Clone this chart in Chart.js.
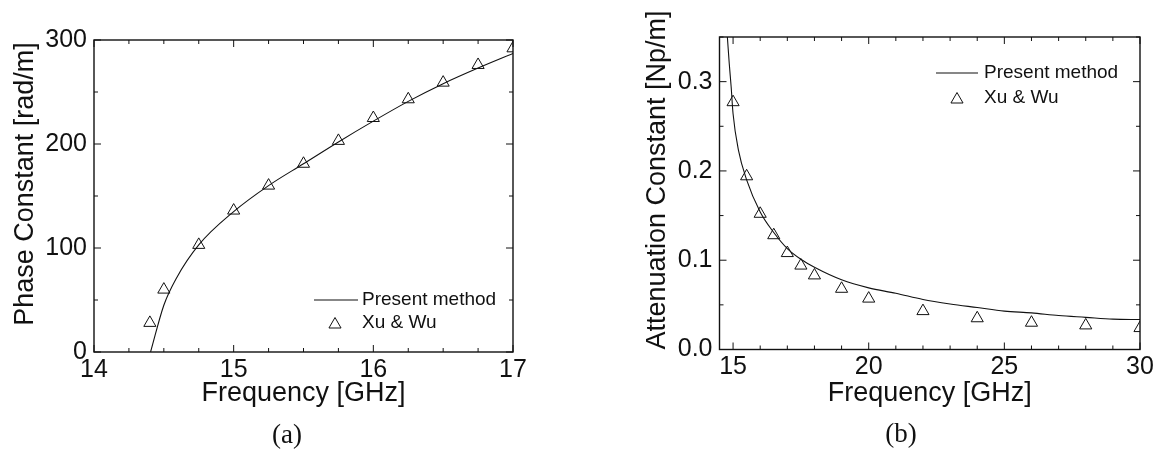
<!DOCTYPE html>
<html><head><meta charset="utf-8">
<script src="https://cdn.jsdelivr.net/npm/chart.js@4/dist/chart.umd.min.js"></script>
<style>
html,body{margin:0;padding:0;background:#fff;width:1158px;height:449px;overflow:hidden;position:relative;}
.c{position:absolute;top:0;width:579px;height:449px;}
.cap{position:absolute;font-family:"Liberation Serif","DejaVu Serif",serif;font-size:27px;color:#111;transform:translate(-50%,-50%);white-space:nowrap;}
</style></head><body>
<div class="c" style="left:0"><canvas id="ca" width="579" height="449"></canvas></div>
<div class="c" style="left:579px"><canvas id="cb" width="579" height="449"></canvas></div>
<div class="cap" style="left:287px;top:434px">(a)</div>
<div class="cap" style="left:901px;top:433px">(b)</div>
<script>
// ---------- data: panel (a) ----------
const freqA_line  = [14.405, 14.5, 14.59, 14.75, 15.0, 15.25, 15.5, 15.75, 16.0, 16.25, 16.5, 16.75, 17.0];
const phaseA_line = [0, 45, 71, 103, 135, 160, 181, 202, 222, 241, 258, 273, 287];
const freqA_pts   = [14.4, 14.5, 14.75, 15.0, 15.25, 15.5, 15.75, 16.0, 16.25, 16.5, 16.75, 17.0];
const phaseA_pts  = [28, 60, 103, 136, 160, 181, 203, 225, 243, 259, 276, 292];
const xTicksA = [14, 15, 16, 17];
const yTicksA = [0, 100, 200, 300];

// ---------- data: panel (b) ----------
const freqB_line = [14.74, 14.79, 14.86, 14.93, 15.0, 15.2, 15.5, 16, 16.5, 17, 17.5, 18, 19, 20, 21, 22, 23, 24, 25, 26, 27, 28, 29, 30];
const attB_line  = [0.37, 0.35, 0.32, 0.294, 0.264, 0.223, 0.19, 0.154, 0.131, 0.113, 0.101, 0.092, 0.078, 0.069, 0.063, 0.056, 0.051, 0.047, 0.043, 0.041, 0.038, 0.036, 0.034, 0.0336];
const freqB_pts  = [15, 15.5, 16, 16.5, 17, 17.5, 18, 19, 20, 22, 24, 26, 28, 30];
const attB_pts   = [0.277, 0.194, 0.152, 0.128, 0.108, 0.094, 0.083, 0.068, 0.057, 0.043, 0.035, 0.030, 0.027, 0.024];
const xTicksB = [15, 20, 25, 30];
const yTicksB = [0, 0.1, 0.2, 0.3];

const legendLabels = ['Present method', 'Xu & Wu'];
const xTitle = 'Frequency [GHz]';
const yTitleA = 'Phase Constant [rad/m]';
const yTitleB = 'Attenuation Constant [Np/m]';

Chart.defaults.font.family = "'Liberation Sans', Arial, Helvetica, sans-serif";
Chart.defaults.color = '#111';

const INK = '#111';

function range(a, b, s){ const r=[]; for(let v=a; v<=b+1e-9; v+=s) r.push(+v.toFixed(6)); return r; }

function drawTri(ctx, x, y, r){
  ctx.beginPath();
  ctx.moveTo(x, y - r);
  ctx.lineTo(x + Math.sin(2*Math.PI/3)*r, y + r/2);
  ctx.lineTo(x - Math.sin(2*Math.PI/3)*r, y + r/2);
  ctx.closePath();
  ctx.stroke();
}

const deco = {
  id: 'deco',
  afterDatasetsDraw(chart, args, o){
    const {ctx, chartArea:a} = chart;
    const sx = chart.scales.x, sy = chart.scales.y;
    ctx.save();
    ctx.strokeStyle = INK;
    // inward ticks on all four sides
    ctx.lineWidth = 1;
    const seg = (x1,y1,x2,y2)=>{ctx.beginPath();ctx.moveTo(x1,y1);ctx.lineTo(x2,y2);ctx.stroke();};
    o.xMinor.forEach(v=>{const p=sx.getPixelForValue(v); if(p<a.left-0.5||p>a.right+0.5) return; const L = o.xTicks.includes(v)?7:4; seg(p,a.bottom,p,a.bottom-L); seg(p,a.top,p,a.top+L);});
    o.yMinor.forEach(v=>{const p=sy.getPixelForValue(v); if(p<a.top-0.5||p>a.bottom+0.5) return; const L = o.yTicks.some(t=>Math.abs(t-v)<1e-9)?7:4; seg(a.left,p,a.left+L,p); seg(a.right,p,a.right-L,p);});
    // frame
    ctx.lineWidth = 1.4;
    ctx.strokeRect(a.left, a.top, a.right-a.left, a.bottom-a.top);
    // legend
    ctx.lineWidth = 1.1;
    seg(o.leg.x1, o.leg.y1, o.leg.x2, o.leg.y1);
    ctx.lineWidth = 1;
    drawTri(ctx, o.leg.tx, o.leg.y2 + 1.5, 7);
    ctx.fillStyle = INK;
    ctx.font = "19px 'Liberation Sans', Arial, sans-serif";
    ctx.textAlign = 'left'; ctx.textBaseline = 'middle';
    ctx.fillText(legendLabels[0], o.leg.textX, o.leg.y1);
    ctx.fillText(legendLabels[1], o.leg.textX, o.leg.y2);
    // y title
    ctx.font = "27px 'Liberation Sans', Arial, sans-serif";
    ctx.textAlign = 'center'; ctx.textBaseline = 'middle';
    ctx.translate(o.yt.x, o.yt.y);
    ctx.rotate(-Math.PI/2);
    ctx.fillText(o.yt.text, 0, 0);
    ctx.restore();
  }
};

function makeChart(id, c){
  const pts = (xs, ys) => xs.map((x,i)=>({x:x, y:ys[i]}));
  return new Chart(document.getElementById(id), {
    type: 'scatter',
    data: { datasets: [
      { label: legendLabels[0], data: pts(c.lx, c.ly), showLine: true, borderColor: INK, borderWidth: 1.1,
        pointRadius: 0, fill: false, cubicInterpolationMode: 'monotone', tension: 0.4 },
      { label: legendLabels[1], data: pts(c.px, c.py), showLine: false, pointStyle: 'triangle', pointRadius: 7,
        pointBorderColor: INK, pointBackgroundColor: 'rgba(0,0,0,0)', pointBorderWidth: 1 }
    ]},
    options: {
      responsive: false, animation: false, events: [],
      layout: { padding: c.pad },
      plugins: { legend: {display:false}, tooltip: {enabled:false}, deco: c.deco },
      scales: {
        x: { type:'linear', min:c.xmin, max:c.xmax,
          afterFit: s => { s.height = c.xH; },
          afterBuildTicks: s => { s.ticks = c.xTicks.map(v=>({value:v})); },
          grid: {display:false, drawTicks:false}, border: {display:false},
          ticks: {font:{size:25}, color:INK, padding:3, maxRotation:0, autoSkip:false, callback: v => String(v)},
          title: {display:true, text:xTitle, font:{size:27}, color:INK, padding:{top:0, bottom:38.8}} },
        y: { type:'linear', min:c.ymin, max:c.ymax,
          afterFit: s => { s.width = c.yW; },
          afterBuildTicks: s => { s.ticks = c.yTicks.map(v=>({value:v})); },
          grid: {display:false, drawTicks:false}, border: {display:false},
          ticks: {font:{size:25}, color:INK, padding:7, autoSkip:false, callback: c.yFmt} }
      }
    },
    plugins: [deco]
  });
}

makeChart('ca', {
  lx: freqA_line, ly: phaseA_line, px: freqA_pts, py: phaseA_pts,
  xmin: 14, xmax: 17, ymin: 0, ymax: 300, xTicks: xTicksA, yTicks: yTicksA,
  pad: {left:0, top:40, right:66, bottom:0}, xH: 97, yW: 94,
  yFmt: v => String(v),
  deco: { xTicks: xTicksA, yTicks: yTicksA, xMinor: range(14,17,0.25), yMinor: range(0,300,50),
          leg: {x1:314, x2:358, y1:300, tx:335, y2:323, textX:362},
          yt: {x:26, y:184, text:yTitleA} }
});

makeChart('cb', {
  lx: freqB_line, ly: attB_line, px: freqB_pts, py: attB_pts,
  xmin: 14.5, xmax: 30, ymin: 0, ymax: 0.35, xTicks: xTicksB, yTicks: yTicksB,
  pad: {left:0, top:37, right:18, bottom:0}, xH: 99.5, yW: 140.5,
  yFmt: v => v.toFixed(1),
  deco: { xTicks: xTicksB, yTicks: yTicksB, xMinor: range(15,30,1), yMinor: range(0,0.35,0.05),
          leg: {x1:357, x2:399, y1:73, tx:378, y2:98, textX:405},
          yt: {x:79, y:180, text:yTitleB} }
});
</script>
</body></html>
